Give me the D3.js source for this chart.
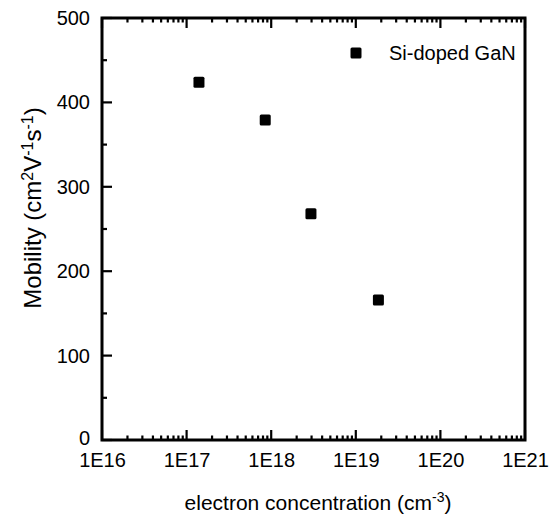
<!DOCTYPE html>
<html>
<head>
<meta charset="utf-8">
<script src="https://cdn.jsdelivr.net/npm/d3@7"></script>
<style>
  html, body { margin: 0; padding: 0; background: #fff; }
  svg { display: block; }
  text { font-family: "Liberation Sans", Arial, sans-serif; fill: #000; }
</style>
</head>
<body>
<svg id="chart" width="550" height="523"></svg>
<script>
// ---- data ----
const concentration = [1.4e17, 8.5e17, 2.95e18, 1.85e19];   // cm^-3
const mobility = [424, 379, 268, 166];                        // cm^2 V^-1 s^-1
const seriesName = "Si-doped GaN";
const xTickValues = [1e16, 1e17, 1e18, 1e19, 1e20, 1e21];
const xTickLabels = ["1E16", "1E17", "1E18", "1E19", "1E20", "1E21"];
const yTickValues = [0, 100, 200, 300, 400, 500];
const yMinorValues = [50, 150, 250, 350, 450];

// ---- layout ----
const plot = { left: 102, right: 525, top: 18, bottom: 440 };
const svg = d3.select("#chart");

const x = d3.scaleLog().domain([1e16, 1e21]).range([plot.left, plot.right]);
const y = d3.scaleLinear().domain([0, 500]).range([plot.bottom, plot.top]);

const xMinorValues = [];
for (let e = 16; e < 21; e++) for (let k = 2; k <= 9; k++) xMinorValues.push(k * Math.pow(10, e));

// tick labels via d3 axes (tick lines drawn separately)
const gB = svg.append("g").attr("transform", `translate(0,${plot.bottom})`)
  .call(d3.axisBottom(x).tickValues(xTickValues).tickSize(0).tickPadding(13)
    .tickFormat((d, i) => xTickLabels[i]));
const gL = svg.append("g").attr("transform", `translate(${plot.left},0)`)
  .call(d3.axisLeft(y).tickValues(yTickValues).tickSize(0).tickPadding(12));
svg.selectAll(".domain").remove();
svg.selectAll(".tick text").attr("font-size", 20)
  .attr("font-family", "Liberation Sans, Arial, sans-serif").attr("fill", "#000");
// nudge the "0" label up a little so it does not collide with "1E16"
gL.selectAll(".tick").filter(d => d === 0).select("text").attr("y", -2);

// tick lines, all pointing inward
const tickG = svg.append("g").attr("stroke", "#000").attr("stroke-width", 2.2);
function xTicks(vals, len) {
  tickG.append("g").selectAll("line").data(vals).join("line")
    .attr("x1", d => x(d)).attr("x2", d => x(d))
    .attr("y1", plot.bottom).attr("y2", plot.bottom - len);
  tickG.append("g").selectAll("line").data(vals).join("line")
    .attr("x1", d => x(d)).attr("x2", d => x(d))
    .attr("y1", plot.top).attr("y2", plot.top + len);
}
xTicks(xTickValues, 10);
xTicks(xMinorValues, 4.5);
tickG.append("g").selectAll("line").data(yTickValues).join("line")
  .attr("x1", plot.left).attr("x2", plot.left + 10)
  .attr("y1", d => y(d)).attr("y2", d => y(d));
tickG.append("g").selectAll("line").data(yMinorValues).join("line")
  .attr("x1", plot.left).attr("x2", plot.left + 5)
  .attr("y1", d => y(d)).attr("y2", d => y(d));

// frame
svg.append("rect")
  .attr("x", plot.left).attr("y", plot.top)
  .attr("width", plot.right - plot.left).attr("height", plot.bottom - plot.top)
  .attr("fill", "none").attr("stroke", "#000").attr("stroke-width", 3);

// points
const pts = concentration.map((c, i) => ({ c, m: mobility[i] }));
const ms = 11;
svg.append("g").selectAll("rect").data(pts).join("rect")
  .attr("x", d => x(d.c) - ms / 2).attr("y", d => y(d.m) - ms / 2)
  .attr("width", ms).attr("height", ms).attr("rx", 1.5).attr("fill", "#000");

// legend
svg.append("rect").attr("x", 356 - ms / 2).attr("y", 53 - ms / 2)
  .attr("width", ms).attr("height", ms).attr("rx", 1.5).attr("fill", "#000");
svg.append("text").attr("x", 389).attr("y", 60).attr("font-size", 20).text(seriesName);

// x title
const xt = svg.append("text").attr("x", 318).attr("y", 510)
  .attr("text-anchor", "middle").attr("font-size", 21);
xt.append("tspan").text("electron concentration (cm");
xt.append("tspan").attr("baseline-shift", "super").attr("font-size", 14).text("-3");
xt.append("tspan").text(")");

// y title
const yt = svg.append("text").attr("transform", `translate(41,208) rotate(-90)`)
  .attr("text-anchor", "middle").attr("font-size", 24);
yt.append("tspan").text("Mobility (cm");
yt.append("tspan").attr("baseline-shift", "super").attr("font-size", 16).text("2");
yt.append("tspan").text("V");
yt.append("tspan").attr("baseline-shift", "super").attr("font-size", 16).text("-1");
yt.append("tspan").text("s");
yt.append("tspan").attr("baseline-shift", "super").attr("font-size", 16).text("-1");
yt.append("tspan").text(")");
</script>
</body>
</html>
